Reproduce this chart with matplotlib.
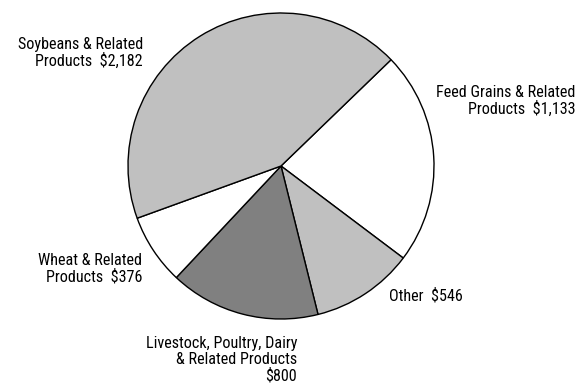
import matplotlib
matplotlib.use("Agg")

import matplotlib.pyplot as plt

# export values, millions of dollars (clockwise from the upper right)
categories = [
    "Feed Grains & Related\nProducts  $1,133",
    "Other  $546",
    "Livestock, Poultry, Dairy\n& Related Products\n$800",
    "Wheat & Related\nProducts  $376",
    "Soybeans & Related\nProducts  $2,182",
]
values = [1133, 546, 800, 376, 2182]
colors = ["white", "#c0c0c0", "#808080", "white", "#c0c0c0"]

# right edge and vertical centre of each label block, in pixels
label_pos = [(575, 101), (463, 296), (297, 360), (142, 269), (143, 53)]

FONT = ["Roboto Condensed", "Archivo Narrow", "Liberation Sans"]

fig = plt.figure(figsize=(5.8, 3.88), dpi=100)
ax = fig.add_axes([0, 0, 1, 1])

# y axis is flipped below, so counterclock=True runs clockwise on screen
ax.pie(values, colors=colors, startangle=-44, counterclock=True,
       center=(281, 166), radius=153, frame=True,
       wedgeprops=dict(edgecolor="black", linewidth=1.0))
ax.set_xlim(0, 580)
ax.set_ylim(388, 0)
ax.set_aspect("equal")
ax.axis("off")

for text, (x, y) in zip(categories, label_pos):
    ax.text(x, y, text, ha="right", va="center", fontsize=11.6,
            family=FONT, multialignment="right", linespacing=1.1)

fig.savefig("out.png", dpi=100)
plt.close(fig)
